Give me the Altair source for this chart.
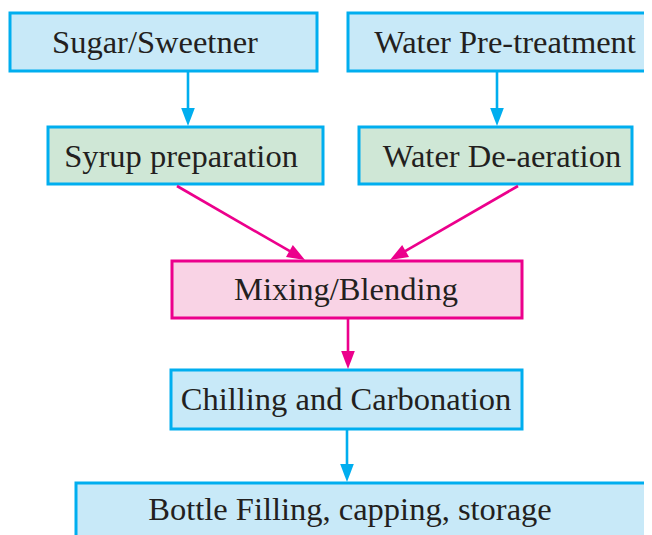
import math
import altair as alt
import pandas as pd

# ---- data -------------------------------------------------------------
labels = [
    "Sugar/Sweetner",
    "Water Pre-treatment",
    "Syrup preparation",
    "Water De-aeration",
    "Mixing/Blending",
    "Chilling and Carbonation",
    "Bottle Filling, capping, storage",
]
box_left = [10, 348, 48, 359, 172, 171, 76]
box_right = [317, 662, 323, 632, 522, 522, 662]
box_top = [13, 13, 127, 127, 261, 370, 483]
box_bottom = [71, 71, 184, 184, 318, 429, 545]
box_kind = ["input", "input", "prep", "prep", "mix", "input", "input"]
text_x = [155, 505, 181, 502, 346, 346, 350]
text_base = [53, 53, 167, 167, 300, 410, 520]

arrow_x1 = [188, 497, 177, 518, 348, 347]
arrow_y1 = [71, 71, 186, 186, 318, 429]
arrow_x2 = [188, 497, 305, 390, 348, 347]
arrow_y2 = [126, 126, 260, 260, 369, 482]
arrow_kind = ["blue", "blue", "pink", "pink", "pink", "blue"]

# ---- styles -----------------------------------------------------------
FILL = {"input": "#C8E9F8", "prep": "#CFE7D6", "mix": "#F9D3E5"}
STROKE = {"input": "#00AEEF", "prep": "#00AEEF", "mix": "#EC008C"}
ACOL = {"blue": "#00AEEF", "pink": "#EC008C"}
TEXT = "#231F20"
FONT = "Liberation Serif, Times New Roman, DejaVu Serif, serif"

boxes = pd.DataFrame({
    "label": labels, "x1": box_left, "x2": box_right,
    "y1": box_top, "y2": box_bottom,
    "fill": [FILL[k] for k in box_kind],
    "stroke": [STROKE[k] for k in box_kind],
    "tx": text_x, "ty": text_base,
})

rows = []
for x1, y1, x2, y2, k in zip(arrow_x1, arrow_y1, arrow_x2, arrow_y2, arrow_kind):
    dx, dy = x2 - x1, y2 - y1
    n = math.hypot(dx, dy)
    ux, uy = dx / n, dy / n
    ang = math.degrees(math.atan2(-ux, uy)) % 360
    rows.append({"x1": x1, "y1": y1, "lx2": x2 - 12 * ux, "ly2": y2 - 12 * uy,
                 "tx": x2, "ty": y2, "angle": ang, "col": ACOL[k]})
arrows = pd.DataFrame(rows)

W, H = 636, 527
xs = alt.Scale(domain=[8, 8 + W], nice=False, zero=False)
ys = alt.Scale(domain=[8, 8 + H], nice=False, zero=False, reverse=True)

rects = alt.Chart(boxes).mark_rect(strokeWidth=3).encode(
    x=alt.X("x1:Q", scale=xs, axis=None),
    x2="x2:Q",
    y=alt.Y("y1:Q", scale=ys, axis=None),
    y2="y2:Q",
    fill=alt.Fill("fill:N", scale=None),
    stroke=alt.Stroke("stroke:N", scale=None),
)

texts = alt.Chart(boxes).mark_text(
    font=FONT, fontSize=32.5, color=TEXT, align="center", baseline="alphabetic"
).encode(
    x=alt.X("tx:Q", scale=xs, axis=None),
    y=alt.Y("ty:Q", scale=ys, axis=None),
    text="label:N",
)

lines = alt.Chart(arrows).mark_rule(strokeWidth=2.6).encode(
    x=alt.X("x1:Q", scale=xs, axis=None),
    y=alt.Y("y1:Q", scale=ys, axis=None),
    x2="lx2:Q",
    y2="ly2:Q",
    color=alt.Color("col:N", scale=None),
)

heads = alt.Chart(arrows).mark_point(
    shape="M 0 0 L -0.38 -1 L 0.38 -1 Z", filled=True, opacity=1, size=1296, strokeWidth=0
).encode(
    x=alt.X("tx:Q", scale=xs, axis=None),
    y=alt.Y("ty:Q", scale=ys, axis=None),
    angle=alt.Angle("angle:Q", scale=None),
    fill=alt.Fill("col:N", scale=None),
)

chart = alt.layer(rects, lines, heads, texts).properties(
    width=W, height=H, padding=0, autosize=alt.AutoSizeParams(type="none"),
).configure_view(stroke=None)

chart.save("out.html", embed_options={"renderer": "svg", "actions": False})
